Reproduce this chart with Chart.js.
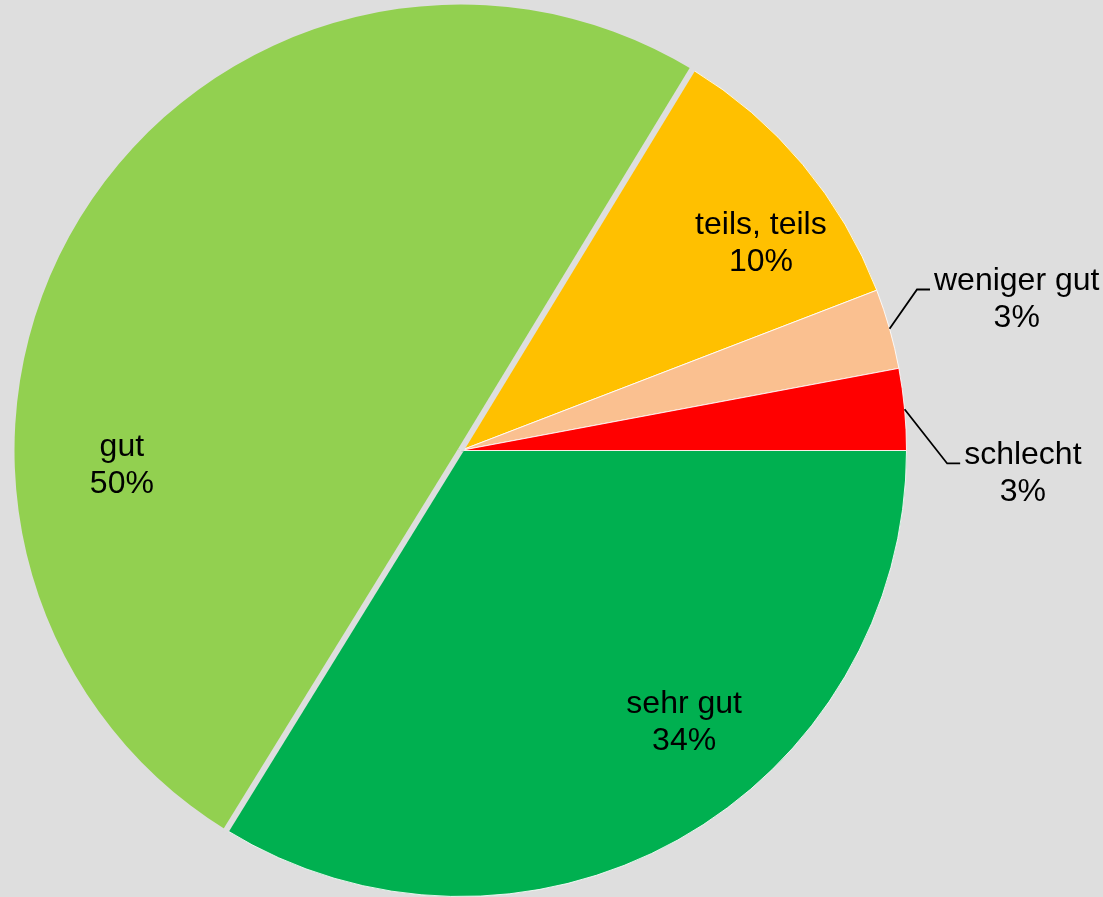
<!DOCTYPE html>
<html>
<head>
<meta charset="utf-8">
<script src="https://cdn.jsdelivr.net/npm/chart.js@4"></script>
<style>
  html, body { margin: 0; padding: 0; background: #dedede; }
  #wrap { position: relative; width: 1103px; height: 897px; }
</style>
</head>
<body>
<div id="wrap"><canvas id="chart"></canvas></div>
<script>
const categories = ['sehr gut', 'gut', 'teils, teils', 'weniger gut', 'schlecht'];
const shares = [33.8, 49.9, 10.45, 2.9, 2.95];
const sliceColors = ['#00b050', '#92d050', '#ffc000', '#fac090', '#ff0000'];

// label placement: shift from slice mid-angle (deg), distance as fraction of radius
const labelShift = [-10.3, -34.0, 5.3, 0.7, 7.7];
const labelDist = [0.789, 0.760, 0.818, 1.292, 1.262];
const labelOutside = [false, false, false, true, true];
const explodedSlice = 1; // "gut" is pulled out a little in the original

const BG = '#dedede';
const FONT = '32px "Liberation Sans", Arial, sans-serif';
const LINE_GAP = 18.5;

// gap around the exploded slice
const sliceGap = {
  id: 'sliceGap',
  afterDatasetsDraw(chart) {
    const ctx = chart.ctx;
    const arc = chart.getDatasetMeta(0).data[explodedSlice];
    const p = arc.getProps(['x', 'y', 'startAngle', 'endAngle', 'outerRadius'], true);
    ctx.save();
    ctx.strokeStyle = BG;
    ctx.lineWidth = 6;
    ctx.lineCap = 'butt';
    [p.startAngle, p.endAngle].forEach(a => {
      ctx.beginPath();
      ctx.moveTo(p.x, p.y);
      ctx.lineTo(p.x + Math.cos(a) * (p.outerRadius + 3), p.y + Math.sin(a) * (p.outerRadius + 3));
      ctx.stroke();
    });
    ctx.restore();
  }
};

// draws "name / xx%" labels, with leader lines for the outside ones
const pieLabels = {
  id: 'pieLabels',
  afterDatasetsDraw(chart) {
    const ctx = chart.ctx;
    const arcs = chart.getDatasetMeta(0).data;
    const total = shares.reduce((a, b) => a + b, 0);
    ctx.save();
    ctx.font = FONT;
    ctx.fillStyle = '#000';
    ctx.strokeStyle = '#000';
    ctx.lineWidth = 1.8;
    ctx.textAlign = 'center';
    ctx.textBaseline = 'middle';
    arcs.forEach((arc, i) => {
      const p = arc.getProps(['x', 'y', 'startAngle', 'endAngle', 'outerRadius'], true);
      const mid = (p.startAngle + p.endAngle) / 2;
      const a = mid + labelShift[i] * Math.PI / 180;
      const lx = p.x + Math.cos(a) * p.outerRadius * labelDist[i];
      const ly = p.y + Math.sin(a) * p.outerRadius * labelDist[i];
      const line1 = categories[i];
      const line2 = Math.round(shares[i] / total * 100) + '%';
      if (labelOutside[i]) {
        const sx = p.x + Math.cos(mid) * p.outerRadius;
        const sy = p.y + Math.sin(mid) * p.outerRadius;
        const left = lx - ctx.measureText(line1).width / 2;
        const ey = ly - LINE_GAP + 8;
        ctx.beginPath();
        ctx.moveTo(sx, sy);
        ctx.lineTo(left - 17, ey);
        ctx.lineTo(left - 4, ey);
        ctx.stroke();
      }
      ctx.fillText(line1, lx, ly - LINE_GAP);
      ctx.fillText(line2, lx, ly + LINE_GAP);
    });
    ctx.restore();
  }
};

new Chart(document.getElementById('chart'), {
  type: 'pie',
  data: {
    labels: categories,
    datasets: [{
      data: shares,
      backgroundColor: sliceColors,
      borderColor: 'rgba(255,255,255,0.85)',
      borderWidth: [1, 0, 1, 1, 1],
      hoverOffset: 0
    }]
  },
  options: {
    responsive: true,
    maintainAspectRatio: false,
    animation: false,
    events: [],
    rotation: 90,
    layout: { padding: { left: 14, right: 196, top: 4, bottom: 0 } },
    plugins: {
      legend: { display: false },
      tooltip: { enabled: false }
    }
  },
  plugins: [sliceGap, pieLabels]
});
</script>
</body>
</html>
